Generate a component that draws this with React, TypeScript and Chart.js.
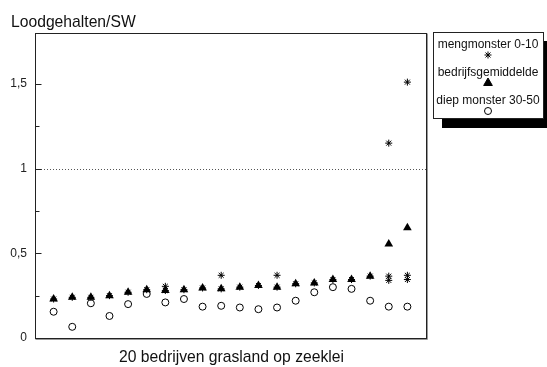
import { useEffect, useRef } from 'react';
import { Chart, registerables } from 'chart.js';
import { drawPoint } from 'chart.js/helpers';

Chart.register(...registerables);

// ---- data ----
const companies = [1, 2, 3, 4, 5, 6, 7, 8, 9, 10, 11, 12, 13, 14, 15, 16, 17, 18, 19, 20];
const bedrijfsgemiddelde = [0.23, 0.24, 0.24, 0.25, 0.27, 0.285, 0.28, 0.285, 0.295, 0.29, 0.3, 0.31, 0.3, 0.32, 0.325, 0.345, 0.345, 0.365, 0.555, 0.65];
const diepMonster = [0.155, 0.066, 0.205, 0.13, 0.2, 0.26, 0.21, 0.23, 0.185, 0.19, 0.18, 0.17, 0.18, 0.22, 0.27, 0.3, 0.29, 0.22, 0.185, 0.185];
const mengX = [1, 2, 3, 4, 5, 6, 7, 7, 8, 9, 10, 10, 11, 12, 13, 13, 14, 15, 16, 17, 18, 19, 19, 19, 20, 20, 20];
const mengY = [0.23, 0.24, 0.24, 0.25, 0.27, 0.285, 0.28, 0.305, 0.285, 0.295, 0.29, 0.37, 0.3, 0.31, 0.3, 0.37, 0.32, 0.325, 0.345, 0.345, 0.365, 0.34, 0.365, 1.15, 0.345, 0.37, 1.51];
const legendLabels = ['mengmonster 0-10', 'bedrijfsgemiddelde', 'diep monster 30-50'];
const yTitle = 'Loodgehalten/SW';
const xTitle = '20 bedrijven grasland op zeeklei';
const referenceValue = 1;
const yMin = 0;
const yMax = 1.8;
const yStep = 0.25;
const xMin = 0;
const xMax = 21;

const FONT = "'Liberation Sans', Arial, Helvetica, sans-serif";

const decorPlugin = {
  id: 'decor',
  beforeDatasetsDraw(chart: any) {
    const { ctx, chartArea } = chart;
    const y = chart.scales.y.getPixelForValue(referenceValue);
    ctx.save();
    ctx.strokeStyle = '#555';
    ctx.lineWidth = 1;
    ctx.setLineDash([1, 2]);
    ctx.beginPath();
    ctx.moveTo(chartArea.left, Math.round(y) + 0.5);
    ctx.lineTo(chartArea.right, Math.round(y) + 0.5);
    ctx.stroke();
    ctx.restore();
  },
  afterDraw(chart: any) {
    const { ctx, chartArea } = chart;
    const ys = chart.scales.y;
    const L = Math.round(chartArea.left) + 0.5;
    const R = Math.round(chartArea.right) + 0.5;
    const T = Math.round(chartArea.top) + 0.5;
    const B = Math.round(chartArea.bottom) + 0.5;
    ctx.save();
    // frame
    ctx.strokeStyle = '#222';
    ctx.lineWidth = 1;
    ctx.strokeRect(L, T, R - L, B - T);
    ctx.strokeStyle = '#999';
    ctx.beginPath();
    ctx.moveTo(L, B + 1);
    ctx.lineTo(R + 1, B + 1);
    ctx.lineTo(R + 1, T);
    ctx.stroke();
    // inner ticks
    ctx.strokeStyle = '#222';
    ys.ticks.forEach((t: any) => {
      const v = t.value;
      if (v <= yMin || v >= yMax) return;
      const q = v / yStep;
      if (Math.abs(q - Math.round(q)) > 1e-6) return;
      const major = Math.abs(v * 2 - Math.round(v * 2)) < 1e-6;
      const len = major ? 6 : 4;
      const py = Math.round(ys.getPixelForValue(v)) + 0.5;
      ctx.beginPath();
      ctx.moveTo(L, py);
      ctx.lineTo(L + len, py);
      ctx.stroke();
    });
    // titles
    ctx.fillStyle = '#111';
    ctx.font = `15.7px ${FONT}`;
    ctx.textAlign = 'left';
    ctx.textBaseline = 'alphabetic';
    ctx.fillText(yTitle, 11, 27);
    ctx.textAlign = 'center';
    ctx.textBaseline = 'middle';
    ctx.fillText(xTitle, (chartArea.left + chartArea.right) / 2 + 1, 358);
    // legend box
    const bx = 433, by = 32, bw = 110, bh = 86, off = 9;
    ctx.fillStyle = '#000';
    ctx.fillRect(bx + off, by + off, bw, bh + 1);
    ctx.fillStyle = '#fff';
    ctx.fillRect(bx, by, bw, bh);
    ctx.strokeStyle = '#222';
    ctx.strokeRect(bx + 0.5, by + 0.5, bw, bh);
    const cx = bx + bw / 2;
    ctx.font = `12px ${FONT}`;
    ctx.fillStyle = '#111';
    ctx.textAlign = 'center';
    ctx.textBaseline = 'middle';
    const rows = [
      { text: legendLabels[0], ty: 45, my: 55, style: 'star', r: 3.5, fill: false },
      { text: legendLabels[1], ty: 73, my: 83, style: 'triangle', r: 5, fill: true },
      { text: legendLabels[2], ty: 101, my: 111, style: 'circle', r: 3.5, fill: false },
    ];
    rows.forEach((row) => {
      ctx.fillStyle = '#111';
      ctx.fillText(row.text, cx, row.ty);
      ctx.strokeStyle = '#000';
      ctx.fillStyle = row.fill ? '#000' : 'rgba(0,0,0,0)';
      ctx.lineWidth = 1;
      drawPoint(ctx, { pointStyle: row.style, rotation: 0, radius: row.r, borderWidth: 1 } as any, cx, row.my);
    });
    ctx.restore();
  },
};

export default function App() {
  const ref = useRef<HTMLCanvasElement | null>(null);
  useEffect(() => {
    if (!ref.current) return;
    const chart = new Chart(ref.current, {
      type: 'scatter',
      data: {
        datasets: [
          {
            label: legendLabels[0],
            data: mengX.map((x, i) => ({ x, y: mengY[i] })),
            pointStyle: 'star',
            pointRadius: 3.5,
            borderColor: '#000',
            backgroundColor: '#000',
            borderWidth: 1,
            order: 1,
          },
          {
            label: legendLabels[1],
            data: companies.map((x, i) => ({ x, y: bedrijfsgemiddelde[i] })),
            pointStyle: 'triangle',
            pointRadius: 5,
            borderColor: '#000',
            backgroundColor: '#000',
            borderWidth: 0,
            order: 2,
          },
          {
            label: legendLabels[2],
            data: companies.map((x, i) => ({ x, y: diepMonster[i] })),
            pointStyle: 'circle',
            pointRadius: 3.5,
            borderColor: '#000',
            backgroundColor: 'rgba(0,0,0,0)',
            borderWidth: 1,
            order: 3,
          },
        ],
      },
      options: {
        animation: false,
        responsive: true,
        maintainAspectRatio: false,
        layout: { padding: { top: 33, right: 121, left: 0, bottom: 0 } },
        plugins: {
          legend: { display: false },
          tooltip: { enabled: false },
          title: { display: false },
        },
        scales: {
          x: {
            type: 'linear',
            min: xMin,
            max: xMax,
            ticks: { display: false },
            grid: { display: false, drawTicks: false },
            border: { display: false },
            afterFit: (s: any) => {
              s.height = 29;
            },
          },
          y: {
            min: yMin,
            max: yMax,
            ticks: {
              stepSize: yStep,
              padding: 8,
              color: '#222',
              font: { family: FONT, size: 12 },
              callback: (v: any) => {
                const n = Number(v);
                return Math.abs(n * 2 - Math.round(n * 2)) < 1e-6 ? String(n).replace('.', ',') : '';
              },
            },
            grid: { display: false, drawTicks: false },
            border: { display: false },
            afterFit: (s: any) => {
              s.width = 35;
            },
          },
        },
      },
      plugins: [decorPlugin],
    });
    return () => chart.destroy();
  }, []);
  return (
    <div style={{ position: 'absolute', left: 0, top: 0, width: 547, height: 367 }}>
      <canvas ref={ref} />
    </div>
  );
}
